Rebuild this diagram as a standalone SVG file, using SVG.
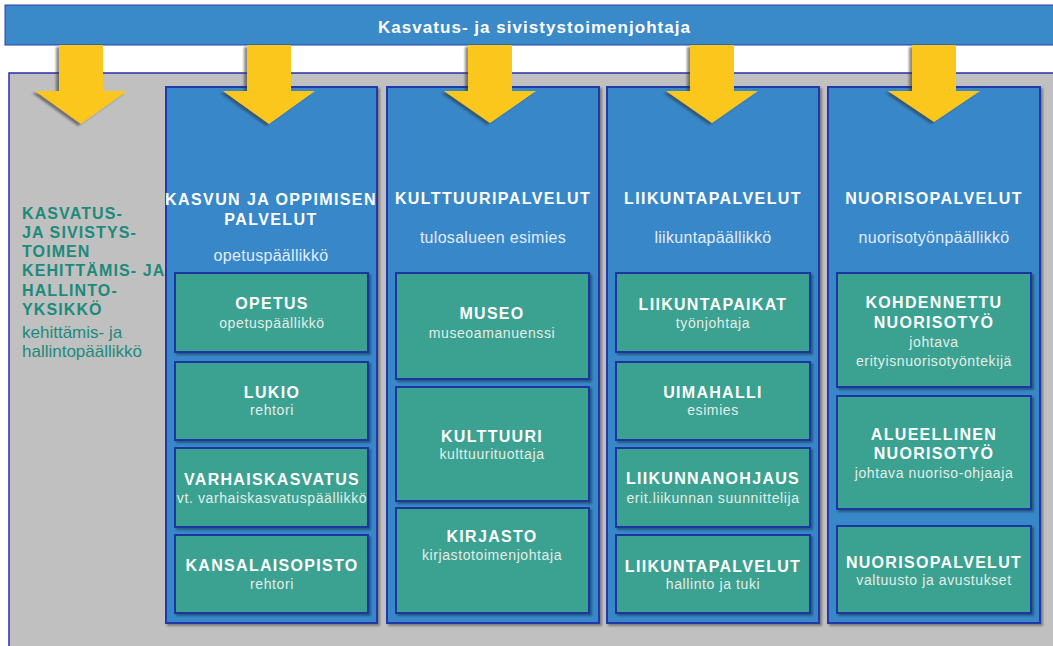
<svg xmlns="http://www.w3.org/2000/svg" width="1053" height="646" viewBox="0 0 1053 646">
<defs>
<style>
.col{fill:#3788c9;stroke:#2438a8;stroke-width:2}
.box{fill:#3ba190;stroke:#1d34a0;stroke-width:2}
.bt{font-family:"Liberation Sans",Arial,sans-serif;font-weight:bold;font-size:16px;fill:#ffffff;text-anchor:middle;letter-spacing:1.3px}
.bs{font-family:"Liberation Sans",Arial,sans-serif;font-size:14px;fill:#e3eeea;text-anchor:middle;letter-spacing:0.6px}
.ct{font-family:"Liberation Sans",Arial,sans-serif;font-weight:bold;font-size:16px;fill:#ffffff;text-anchor:middle;letter-spacing:1.4px}
.cs{font-family:"Liberation Sans",Arial,sans-serif;font-size:16px;fill:#e2ecf7;text-anchor:middle;letter-spacing:0.3px}
.lt{font-family:"Liberation Sans",Arial,sans-serif;font-weight:bold;font-size:16px;fill:#1c8a7b;letter-spacing:1.1px}
.ls{font-family:"Liberation Sans",Arial,sans-serif;font-size:17px;fill:#1c8a7b}
.arr{fill:#fcc71e}
</style>
<filter id="sh" x="-10%" y="-10%" width="130%" height="130%">
<feDropShadow dx="2" dy="2" stdDeviation="1" flood-color="#000" flood-opacity="0.35"/>
</filter>
<filter id="ash" x="-20%" y="-10%" width="140%" height="130%">
<feDropShadow dx="-3" dy="2" stdDeviation="1" flood-color="#333" flood-opacity="0.55"/>
</filter>
</defs>
<rect width="1053" height="646" fill="#ffffff"/>
<g id="background">
<rect x="9" y="73" width="1050" height="580" fill="#c0c0c0"/>
<path d="M9,646 L9,73 L1053,73" fill="none" stroke="#2b2fa6" stroke-width="1.5"/>
</g>
<g id="top">
<rect x="5" y="5" width="1052" height="40" fill="#3a89c9" stroke="#2b3fa6" stroke-width="1"/>
<text x="534" y="33" font-family="'Liberation Sans',Arial,sans-serif" font-weight="bold" font-size="17" fill="#ffffff" text-anchor="middle" textLength="312" lengthAdjust="spacing">Kasvatus- ja sivistystoimenjohtaja</text>
</g>
<g id="unit-left">
<text class="lt" x="22" y="219">KASVATUS-</text>
<text class="lt" x="22" y="238">JA SIVISTYS-</text>
<text class="lt" x="22" y="257">TOIMEN</text>
<text class="lt" x="22" y="276">KEHITTÄMIS- JA</text>
<text class="lt" x="22" y="296">HALLINTO-</text>
<text class="lt" x="22" y="315">YKSIKKÖ</text>
<text class="ls" x="22" y="338">kehittämis- ja</text>
<text class="ls" x="22" y="357">hallintopäällikkö</text>
</g>
<g id="col-kasvun">
<rect class="col" x="166" y="87" width="211" height="536" filter="url(#sh)"/>
<text class="ct" x="271" y="205">KASVUN JA OPPIMISEN</text>
<text class="ct" x="271" y="225">PALVELUT</text>
<text class="cs" x="271" y="261">opetuspäällikkö</text>
</g>
<g id="box-opetus">
<rect class="box" x="175" y="273" width="193" height="79" filter="url(#sh)"/>
<text class="bt" x="272" y="309">OPETUS</text>
<text class="bs" x="272" y="328">opetuspäällikkö</text>
</g>
<g id="box-lukio">
<rect class="box" x="175" y="362" width="193" height="78" filter="url(#sh)"/>
<text class="bt" x="272" y="398">LUKIO</text>
<text class="bs" x="272" y="415">rehtori</text>
</g>
<g id="box-varhaiskasvatus">
<rect class="box" x="175" y="448" width="193" height="79" filter="url(#sh)"/>
<text class="bt" x="272" y="485">VARHAISKASVATUS</text>
<text class="bs" x="272" y="503">vt. varhaiskasvatuspäällikkö</text>
</g>
<g id="box-kansalaisopisto">
<rect class="box" x="175" y="535" width="193" height="78" filter="url(#sh)"/>
<text class="bt" x="272" y="571">KANSALAISOPISTO</text>
<text class="bs" x="272" y="589">rehtori</text>
</g>
<g id="col-kulttuuri">
<rect class="col" x="387" y="87" width="212" height="536" filter="url(#sh)"/>
<text class="ct" x="493" y="204">KULTTUURIPALVELUT</text>
<text class="cs" x="493" y="243">tulosalueen esimies</text>
</g>
<g id="box-museo">
<rect class="box" x="396" y="273" width="193" height="106" filter="url(#sh)"/>
<text class="bt" x="492" y="319">MUSEO</text>
<text class="bs" x="492" y="338">museoamanuenssi</text>
</g>
<g id="box-kulttuuri">
<rect class="box" x="396" y="387" width="193" height="114" filter="url(#sh)"/>
<text class="bt" x="492" y="442">KULTTUURI</text>
<text class="bs" x="492" y="459">kulttuurituottaja</text>
</g>
<g id="box-kirjasto">
<rect class="box" x="396" y="508" width="193" height="105" filter="url(#sh)"/>
<text class="bt" x="492" y="542">KIRJASTO</text>
<text class="bs" x="492" y="560">kirjastotoimenjohtaja</text>
</g>
<g id="col-liikunta">
<rect class="col" x="607" y="87" width="212" height="536" filter="url(#sh)"/>
<text class="ct" x="713" y="204">LIIKUNTAPALVELUT</text>
<text class="cs" x="713" y="243">liikuntapäällikkö</text>
</g>
<g id="box-liikuntapaikat">
<rect class="box" x="616" y="273" width="194" height="79" filter="url(#sh)"/>
<text class="bt" x="713" y="310">LIIKUNTAPAIKAT</text>
<text class="bs" x="713" y="328">työnjohtaja</text>
</g>
<g id="box-uimahalli">
<rect class="box" x="616" y="362" width="194" height="78" filter="url(#sh)"/>
<text class="bt" x="713" y="398">UIMAHALLI</text>
<text class="bs" x="713" y="415">esimies</text>
</g>
<g id="box-liikunnanohjaus">
<rect class="box" x="616" y="448" width="194" height="79" filter="url(#sh)"/>
<text class="bt" x="713" y="484">LIIKUNNANOHJAUS</text>
<text class="bs" x="713" y="503">erit.liikunnan suunnittelija</text>
</g>
<g id="box-liikuntapalvelut">
<rect class="box" x="616" y="535" width="194" height="78" filter="url(#sh)"/>
<text class="bt" x="713" y="572">LIIKUNTAPALVELUT</text>
<text class="bs" x="713" y="589">hallinto ja tuki</text>
</g>
<g id="col-nuoriso">
<rect class="col" x="828" y="87" width="212" height="536" filter="url(#sh)"/>
<text class="ct" x="934" y="204">NUORISOPALVELUT</text>
<text class="cs" x="934" y="243">nuorisotyönpäällikkö</text>
</g>
<g id="box-kohdennettu">
<rect class="box" x="837" y="273" width="194" height="114" filter="url(#sh)"/>
<text class="bt" x="934" y="308">KOHDENNETTU</text>
<text class="bt" x="934" y="328">NUORISOTYÖ</text>
<text class="bs" x="934" y="347">johtava</text>
<text class="bs" x="934" y="366">erityisnuorisotyöntekijä</text>
</g>
<g id="box-alueellinen">
<rect class="box" x="837" y="396" width="194" height="113" filter="url(#sh)"/>
<text class="bt" x="934" y="440">ALUEELLINEN</text>
<text class="bt" x="934" y="459">NUORISOTYÖ</text>
<text class="bs" x="934" y="478">johtava nuoriso-ohjaaja</text>
</g>
<g id="box-nuorisopalvelut">
<rect class="box" x="837" y="526" width="194" height="87" filter="url(#sh)"/>
<text class="bt" x="934" y="568">NUORISOPALVELUT</text>
<text class="bs" x="934" y="585">valtuusto ja avustukset</text>
</g>
<g id="connectors" filter="url(#ash)">
<polygon class="arr" points="59,45 103,45 103,91 127,91 81,124 35,91 59,91"/>
<polygon class="arr" points="247,45 291,45 291,91 315,91 269,124 223,91 247,91"/>
<polygon class="arr" points="468,45 512,45 512,91 536,91 490,123 444,91 468,91"/>
<polygon class="arr" points="690,45 734,45 734,91 758,91 712,123 666,91 690,91"/>
<polygon class="arr" points="912,45 956,45 956,91 980,91 934,122 888,91 912,91"/>
</g>
</svg>
